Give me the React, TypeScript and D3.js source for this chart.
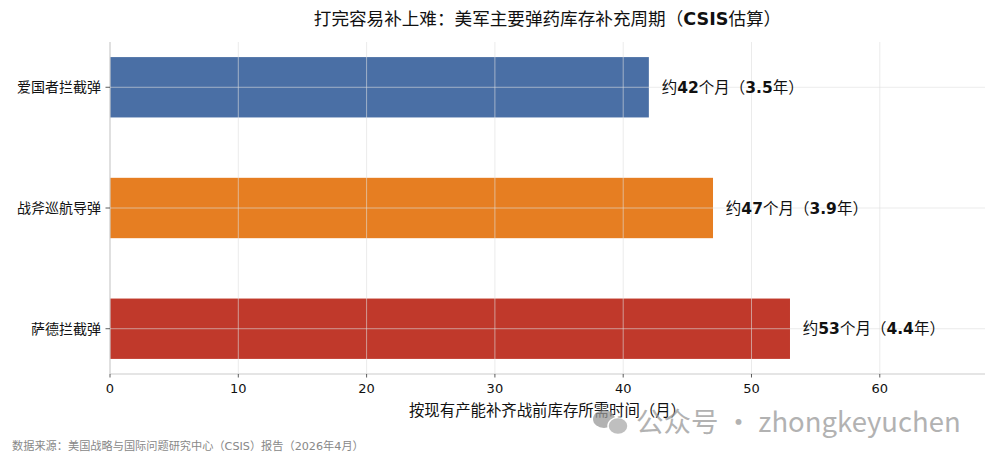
import * as d3 from 'd3';
import { useRef, useEffect } from 'react';

const categories = ['爱国者拦截弹', '战斧巡航导弹', '萨德拦截弹'];
const months = [42, 47, 53];
const years = ['3.5', '3.9', '4.4'];
const colors = ['#4a6fa5', '#e67e22', '#c0392b'];
const xTicks = [0, 10, 20, 30, 40, 50, 60];

const W = 993;
const H = 461;
const FONT = "'DejaVu Sans', 'Noto Sans CJK SC', sans-serif";

const App = () => {
  const svgRef = useRef<SVGSVGElement | null>(null);

  useEffect(() => {
    const svg = d3.select(svgRef.current);
    svg.selectAll('*').remove();

    const left = 110, right = 985, top = 42, bottom = 374;

    const x = d3.scaleLinear().domain([0, 68.2]).range([left, right]);
    // matplotlib-like barh: categories at 0..2 with 0.5 height, 5% margins
    const y = d3.scaleLinear().domain([-0.375, 2.375]).range([top, bottom]);
    const barH = y(0.5) - y(0);

    svg.append('rect').attr('width', W).attr('height', H).attr('fill', '#fff');

    // bars
    svg.selectAll('rect.bar')
      .data(months)
      .enter()
      .append('rect')
      .attr('class', 'bar')
      .attr('x', x(0))
      .attr('y', (_, i) => y(i) - barH / 2)
      .attr('width', d => x(d) - x(0))
      .attr('height', barH)
      .attr('fill', (_, i) => colors[i]);

    // grid on top of bars
    const grid = svg.append('g').attr('stroke', '#dddddd').attr('stroke-opacity', 0.6).attr('stroke-width', 1);
    xTicks.forEach(t => {
      if (t === 0) return;
      grid.append('line').attr('x1', x(t)).attr('x2', x(t)).attr('y1', top).attr('y2', bottom);
    });
    categories.forEach((_, i) => {
      grid.append('line').attr('x1', left).attr('x2', right).attr('y1', y(i)).attr('y2', y(i));
    });

    // spines
    svg.append('line').attr('x1', left).attr('x2', left).attr('y1', top).attr('y2', bottom)
      .attr('stroke', '#cccccc').attr('stroke-width', 1.2);
    svg.append('line').attr('x1', left).attr('x2', right).attr('y1', bottom).attr('y2', bottom)
      .attr('stroke', '#cccccc').attr('stroke-width', 1.2);

    // x ticks
    const xt = svg.append('g');
    xTicks.forEach(t => {
      xt.append('line').attr('x1', x(t)).attr('x2', x(t)).attr('y1', bottom).attr('y2', bottom + 3.5)
        .attr('stroke', '#333').attr('stroke-width', 0.8);
      xt.append('text').attr('x', x(t)).attr('y', bottom + 19).attr('text-anchor', 'middle')
        .attr('font-family', FONT).attr('font-size', 13).attr('fill', '#111').text(String(t));
    });

    // y ticks
    const yt = svg.append('g');
    categories.forEach((c, i) => {
      yt.append('line').attr('x1', left - 4.5).attr('x2', left).attr('y1', y(i)).attr('y2', y(i))
        .attr('stroke', '#333').attr('stroke-width', 0.8);
      yt.append('text').attr('x', left - 9).attr('y', y(i)).attr('dy', '0.36em').attr('text-anchor', 'end')
        .attr('font-family', FONT).attr('font-size', 14).attr('fill', '#111').text(c);
    });

    // value labels
    months.forEach((m, i) => {
      const t = svg.append('text').attr('x', x(m + 1)).attr('y', y(i)).attr('dy', '0.36em')
        .attr('font-family', FONT).attr('font-size', 15.5).attr('fill', '#111');
      t.append('tspan').text('约');
      t.append('tspan').attr('font-weight', 'bold').text(String(m));
      t.append('tspan').text('个月（');
      t.append('tspan').attr('font-weight', 'bold').text(years[i]);
      t.append('tspan').text('年）');
    });

    // title
    const title = svg.append('text').attr('x', (left + right) / 2).attr('y', 25).attr('text-anchor', 'middle')
      .attr('font-family', FONT).attr('font-size', 17.6).attr('fill', '#111');
    title.append('tspan').text('打完容易补上难：美军主要弹药库存补充周期（');
    title.append('tspan').attr('font-weight', 'bold').text('CSIS');
    title.append('tspan').text('估算）');

    // x label
    svg.append('text').attr('x', (left + right) / 2).attr('y', 416).attr('text-anchor', 'middle')
      .attr('font-family', FONT).attr('font-size', 15.4).attr('fill', '#111')
      .text('按现有产能补齐战前库存所需时间（月）');

    // source
    svg.append('text').attr('x', 12).attr('y', 450)
      .attr('font-family', FONT).attr('font-size', 11.2).attr('fill', '#888')
      .text('数据来源：美国战略与国际问题研究中心（CSIS）报告（2026年4月）');

    // watermark
    const wm = svg.append('g').attr('opacity', 0.75);
    wm.append('ellipse').attr('cx', 604).attr('cy', 419).attr('rx', 11).attr('ry', 9).attr('fill', '#999');
    wm.append('ellipse').attr('cx', 618).attr('cy', 426).attr('rx', 10).attr('ry', 8.5).attr('fill', '#aaa')
      .attr('stroke', '#fff').attr('stroke-width', 1.5);
    wm.append('text').attr('x', 636).attr('y', 432)
      .attr('font-family', "'Noto Sans CJK SC', 'DejaVu Sans', sans-serif").attr('font-size', 27.5)
      .attr('fill', '#999').text('公众号 · zhongkeyuchen');
  }, []);

  return (
    <div style={{ position: 'absolute', top: 0, left: 0 }}>
      <svg ref={svgRef} width={W} height={H} />
    </div>
  );
};

export default App;
